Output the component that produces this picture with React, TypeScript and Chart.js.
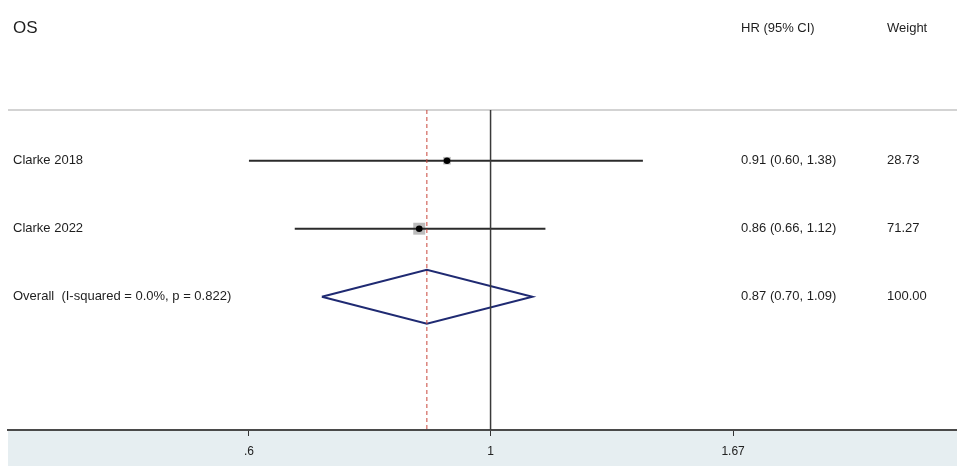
import React, { useEffect, useRef } from 'react';
import { Chart, registerables } from 'chart.js';

Chart.register(...registerables);

// ---- data ----
const TITLE = 'OS';
const HEAD_HR = 'HR (95% CI)';
const HEAD_WEIGHT = 'Weight';
const STUDIES = ['Clarke 2018', 'Clarke 2022'];
const STUDY_ROWS = [1, 2];
const HR = [0.912, 0.86];
const LOWER = [0.6, 0.661];
const UPPER = [1.38, 1.123];
const HR_TEXT = ['0.91 (0.60, 1.38)', '0.86 (0.66, 1.12)'];
const WEIGHTS = [28.73, 71.27];
const WEIGHT_TEXT = ['28.73', '71.27'];
const OVERALL_LABEL = 'Overall  (I-squared = 0.0%, p = 0.822)';
const OVERALL_ROW = 3;
const OVERALL = 0.874;
const OVERALL_LOWER = 0.7;
const OVERALL_UPPER = 1.0924;
const OVERALL_HR_TEXT = '0.87 (0.70, 1.09)';
const OVERALL_WEIGHT_TEXT = '100.00';
const TICKS = [0.6, 1, 1.67];
const TICK_LABELS = ['.6', '1', '1.67'];
const X_MIN = 0.3605;
const X_MAX = 2.681;
const Y_MIN = 0.2544;
const Y_MAX = 4.96;
const DIAMOND_HALF = 0.397;

const FONT = '"Liberation Sans", Arial, sans-serif';

export default function App() {
  const ref = useRef<HTMLCanvasElement | null>(null);

  useEffect(() => {
    if (!ref.current) return;

    const ciSets = STUDIES.map((s, i) => ({
      label: s + ' CI',
      data: [
        { x: LOWER[i], y: STUDY_ROWS[i] },
        { x: UPPER[i], y: STUDY_ROWS[i] },
      ],
      showLine: true,
      borderColor: '#2b2b2b',
      borderWidth: 2,
      pointRadius: 0,
      order: 3,
    }));

    const boxes = {
      label: 'weights',
      data: STUDIES.map((_, i) => ({ x: HR[i], y: STUDY_ROWS[i] })),
      pointStyle: 'rect',
      pointRadius: WEIGHTS.map((w) => Math.sqrt(w)),
      backgroundColor: '#bcbcbc',
      borderWidth: 0,
      showLine: false,
      order: 5,
    };

    const dots = {
      label: 'points',
      data: STUDIES.map((_, i) => ({ x: HR[i], y: STUDY_ROWS[i] })),
      pointStyle: 'circle',
      pointRadius: 3.3,
      backgroundColor: '#000',
      borderWidth: 0,
      showLine: false,
      order: 1,
    };

    const diamond = {
      label: 'overall',
      data: [
        { x: OVERALL_LOWER, y: OVERALL_ROW },
        { x: OVERALL, y: OVERALL_ROW - DIAMOND_HALF },
        { x: OVERALL_UPPER, y: OVERALL_ROW },
        { x: OVERALL, y: OVERALL_ROW + DIAMOND_HALF },
        { x: OVERALL_LOWER, y: OVERALL_ROW },
      ],
      showLine: true,
      borderColor: '#1f2a72',
      borderWidth: 2,
      pointRadius: 0,
      fill: false,
      tension: 0,
      order: 4,
    };

    const nullLine = {
      label: 'null',
      data: [
        { x: 1, y: Y_MIN },
        { x: 1, y: Y_MAX },
      ],
      showLine: true,
      borderColor: '#3a3a3a',
      borderWidth: 1.5,
      pointRadius: 0,
      order: 2,
    };

    const overallLine = {
      label: 'overall line',
      data: [
        { x: OVERALL, y: Y_MIN },
        { x: OVERALL, y: Y_MAX },
      ],
      showLine: true,
      borderColor: '#c8453b',
      borderWidth: 1,
      borderDash: [4, 3],
      pointRadius: 0,
      order: 0,
    };

    const decor = {
      id: 'decor',
      beforeDraw(chart: any) {
        const { ctx, chartArea, height } = chart;
        ctx.save();
        ctx.fillStyle = '#ffffff';
        ctx.fillRect(0, 0, chart.width, height);
        ctx.fillStyle = '#e6eef1';
        ctx.fillRect(chartArea.left, chartArea.bottom, chartArea.right - chartArea.left, height - chartArea.bottom);
        ctx.strokeStyle = '#c4c4c4';
        ctx.lineWidth = 1.5;
        ctx.beginPath();
        ctx.moveTo(chartArea.left, chartArea.top);
        ctx.lineTo(chartArea.right, chartArea.top);
        ctx.stroke();
        ctx.restore();
      },
      afterDraw(chart: any) {
        const { ctx } = chart;
        const y = chart.scales.y;
        ctx.save();
        ctx.fillStyle = '#1e1e1e';
        ctx.textBaseline = 'middle';
        ctx.textAlign = 'left';
        ctx.font = `17px ${FONT}`;
        ctx.fillText(TITLE, 13, 28);
        ctx.font = `13px ${FONT}`;
        ctx.fillText(HEAD_HR, 741, 28);
        ctx.fillText(HEAD_WEIGHT, 887, 28);
        STUDIES.forEach((s, i) => {
          const py = y.getPixelForValue(STUDY_ROWS[i]);
          ctx.fillText(s, 13, py);
          ctx.fillText(HR_TEXT[i], 741, py);
          ctx.fillText(WEIGHT_TEXT[i], 887, py);
        });
        const po = y.getPixelForValue(OVERALL_ROW);
        ctx.fillText(OVERALL_LABEL, 13, po);
        ctx.fillText(OVERALL_HR_TEXT, 741, po);
        ctx.fillText(OVERALL_WEIGHT_TEXT, 887, po);
        ctx.restore();
      },
    };

    const chart = new Chart(ref.current, {
      type: 'scatter',
      data: { datasets: [overallLine, ...ciSets, boxes, dots, diamond, nullLine] as any },
      options: {
        animation: false,
        responsive: false,
        maintainAspectRatio: false,
        layout: { autoPadding: false, padding: { top: 110, left: 8, right: 0, bottom: 0 } },
        plugins: { legend: { display: false }, tooltip: { enabled: false } },
        scales: {
          x: {
            type: 'logarithmic',
            min: X_MIN,
            max: X_MAX,
            afterBuildTicks: (scale: any) => {
              scale.ticks = TICKS.map((v) => ({ value: v }));
            },
            afterFit: (scale: any) => {
              scale.height = 36;
              scale.paddingLeft = 0;
              scale.paddingRight = 0;
            },
            ticks: {
              autoSkip: false,
              maxRotation: 0,
              padding: 8,
              color: '#222',
              font: { family: FONT, size: 12 },
              callback: (_v: any, i: number) => TICK_LABELS[i],
            },
            grid: {
              drawOnChartArea: false,
              drawTicks: true,
              tickLength: 6,
              color: '#333',
              lineWidth: 1,
            },
            border: { display: true, color: '#4a4a4a', width: 2 },
          },
          y: {
            type: 'linear',
            min: Y_MIN,
            max: Y_MAX,
            reverse: true,
            display: false,
          },
        },
      } as any,
      plugins: [decor],
    });

    return () => chart.destroy();
  }, []);

  return (
    <div style={{ position: 'fixed', left: 0, top: 0, width: 957, height: 466, background: '#fff' }}>
      <canvas ref={ref} width={957} height={466} style={{ display: 'block' }} />
    </div>
  );
}
